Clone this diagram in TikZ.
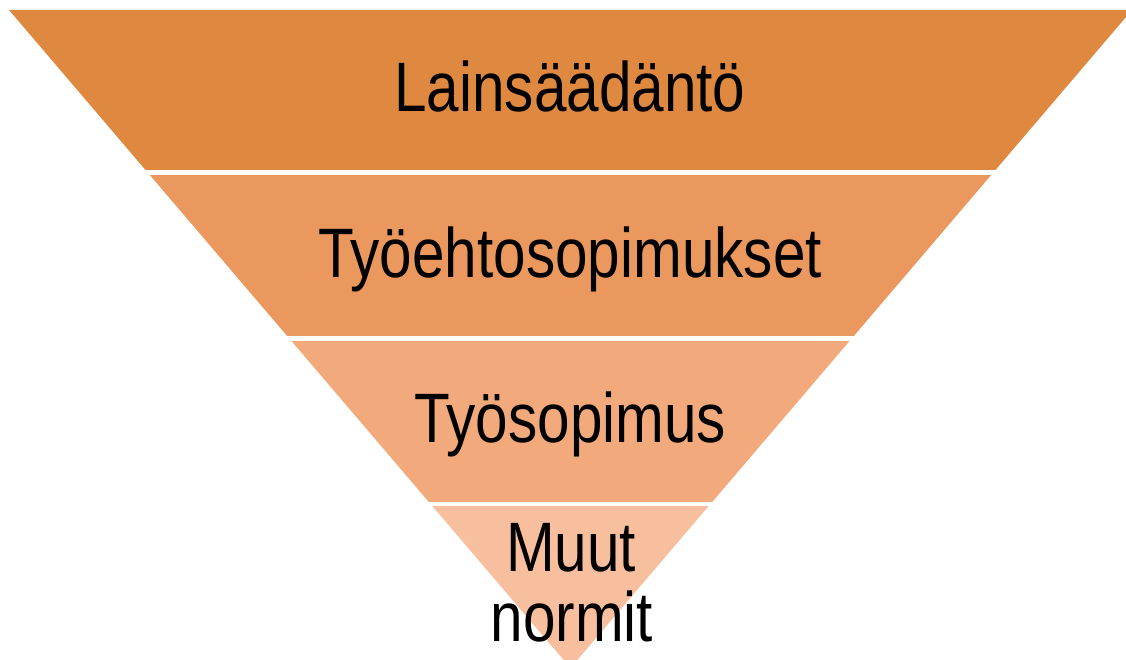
\documentclass[tikz,border=0pt]{standalone}
\usepackage{fontspec}
\setmainfont[FakeStretch=0.835]{Liberation Sans}
\definecolor{bandA}{RGB}{223,136,63}
\definecolor{bandB}{RGB}{234,152,94}
\definecolor{bandC}{RGB}{242,170,124}
\definecolor{bandD}{RGB}{248,191,158}
\tikzset{
  lbl/.style={anchor=base, inner sep=0pt, font=\fontsize{70}{70}\selectfont, text=black},
}
\newcommand{\funnelband}[3]{%
  \begin{scope}
    \clip (0,#1) rectangle (1126,#2);
    \fill[#3] (tl) -- (tr) -- (apex) -- cycle;
  \end{scope}}
\begin{document}
\begin{tikzpicture}[x=1pt,y=-1pt]
  \useasboundingbox (0,0) rectangle (1126,660);
  \clip (0,0) rectangle (1126,660);
  % inverted triangle outline, cut into bands
  \coordinate (tl) at (9,10);
  \coordinate (tr) at (1132,10);
  \coordinate (apex) at (570.5,668);
  \funnelband{10}{170}{bandA}
  \funnelband{175.5}{335}{bandB}
  \funnelband{341}{501}{bandC}
  \funnelband{506.5}{670}{bandD}
  % labels
  \node[lbl] (laki) at (570,111.7) {Lainsäädäntö};
  \node[lbl] (tes) at (570,277.7) {Työehtosopimukset};
  \node[lbl] (tyo) at (570,442.7) {Työsopimus};
  \node[lbl] (muut) at (571,571.7) {Muut};
  \node[lbl] (normit) at (572,641.7) {normit};
\end{tikzpicture}
\end{document}
